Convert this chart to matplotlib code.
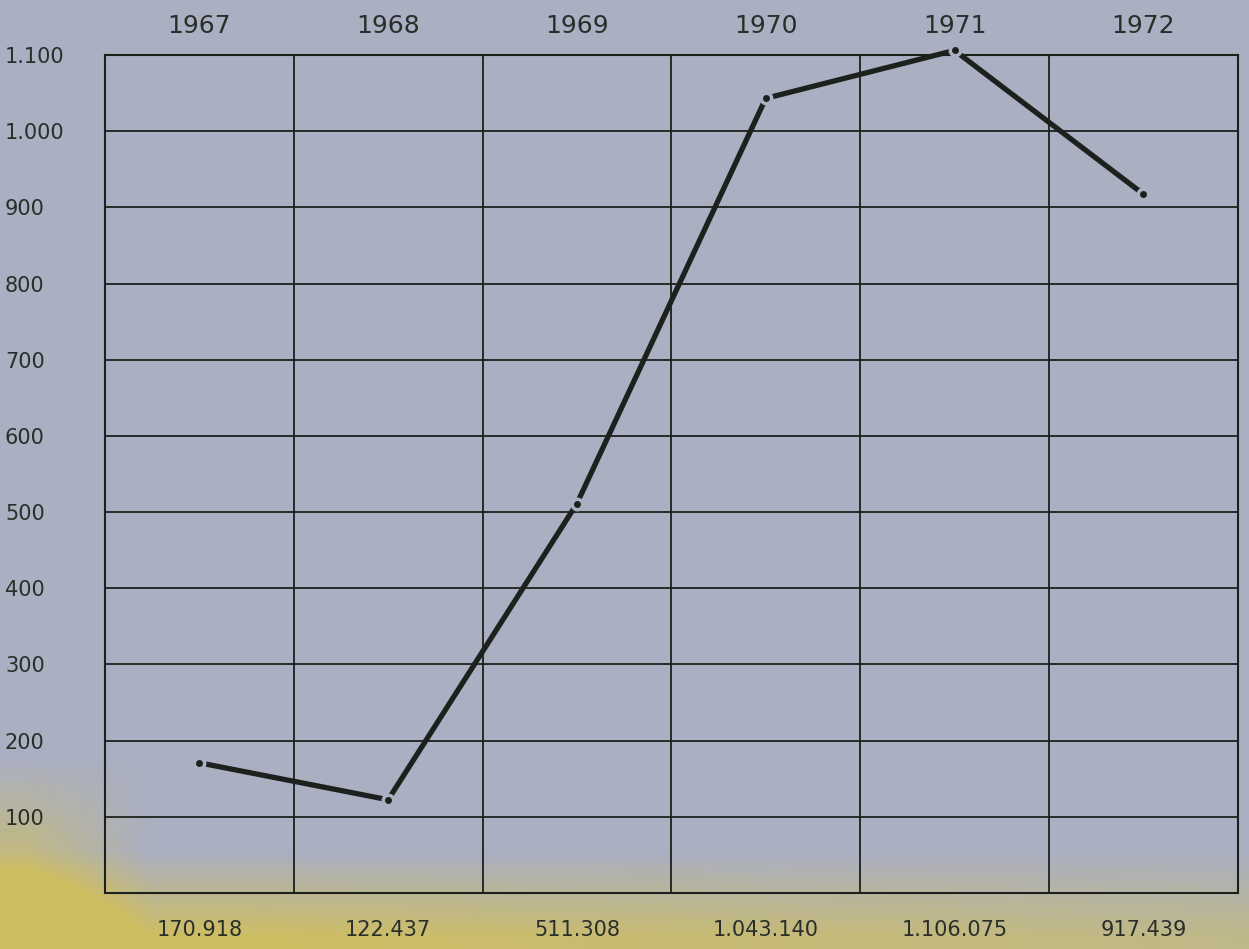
import numpy as np
import matplotlib.pyplot as plt

years = ["1967", "1968", "1969", "1970", "1971", "1972"]
values = [170918, 122437, 511308, 1043140, 1106075, 917439]
y_ticks = [100, 200, 300, 400, 500, 600, 700, 800, 900, 1000, 1100]

ink = "#1c211d"
bg_blue = np.array([170, 175, 194]) / 255
bg_yellow = np.array([206, 190, 98]) / 255

fig = plt.figure(figsize=(12.49, 9.49), dpi=100)

# paper background: blue-grey with a yellowish stain along the bottom edge
bg = fig.add_axes([0, 0, 1, 1])
h, w = 190, 250
yy, xx = np.mgrid[0:1:h * 1j, 0:1:w * 1j]
bottom = np.clip((yy - 0.9) / 0.09, 0, 1) * np.clip(1.1 - 0.5 * xx, 0, 1)
corner = np.clip((0.12 - xx) / 0.1, 0, 1) * np.clip((yy - 0.8) / 0.15, 0, 1)
stain = np.clip(bottom + corner, 0, 1)
img = bg_blue[None, None, :] * (1 - stain[..., None]) + bg_yellow[None, None, :] * stain[..., None]
bg.imshow(img, aspect="auto", extent=[0, 1, 0, 1], origin="upper")
bg.axis("off")

ax = fig.add_axes([0.084, 0.059, 0.907, 0.883])
ax.patch.set_alpha(0)
x = np.arange(len(years)) + 0.5
y = [v / 1000 for v in values]

ax.plot(x, y, color=ink, lw=3.8, solid_capstyle="butt", zorder=3, clip_on=False)
ax.plot(x, y, "o", ms=5, color=ink, mec=bg_blue, mew=5, zorder=4, clip_on=False)
ax.plot(x, y, "o", ms=5, color=ink, mec=ink, mew=0, zorder=5, clip_on=False)

ax.set_xlim(0, len(years))
ax.set_ylim(0, 1100)
ax.set_xticks(np.arange(len(years) + 1))
ax.set_yticks([0] + y_ticks)
ax.grid(True, color=ink, lw=1.3)
for s in ax.spines.values():
    s.set_color(ink)
    s.set_linewidth(1.5)

ax.set_xticklabels([])
ax.set_yticklabels([""] + [f"{t:,}".replace(",", ".") for t in y_ticks],
                   fontsize=15, color="#2a2e2a")
for lab in ax.get_yticklabels():
    lab.set_ha("left")
ax.tick_params(axis="y", length=0, pad=72)
ax.tick_params(axis="x", length=0)

for xi, yr, v in zip(x, years, values):
    ax.text(xi, 1.02, yr, transform=ax.get_xaxis_transform(), ha="center",
            va="bottom", fontsize=18, color="#2a2e2a")
    ax.text(xi, -0.032, f"{v:,}".replace(",", "."), transform=ax.get_xaxis_transform(),
            ha="center", va="top", fontsize=15, color="#2a2e2a")

fig.savefig("out.png", dpi=100)
